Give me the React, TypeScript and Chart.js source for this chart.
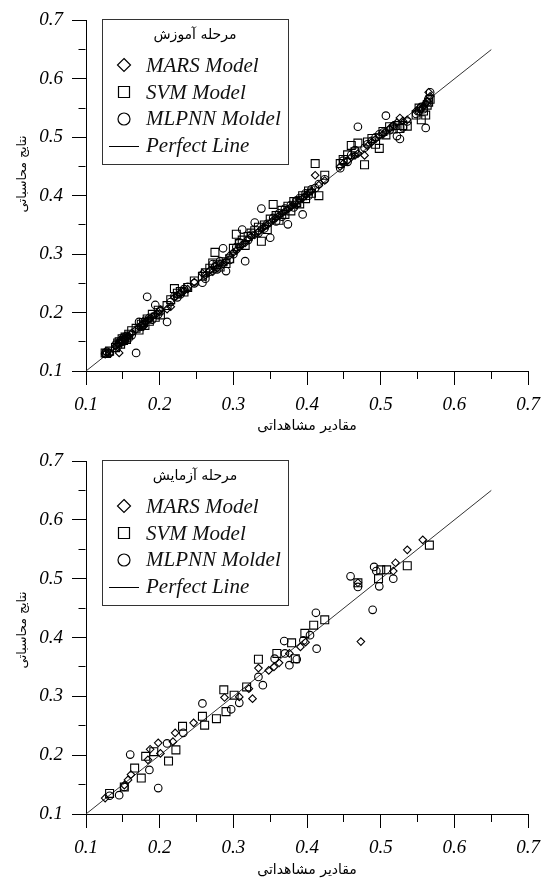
import React, { useEffect, useRef } from "react";
import { Chart, registerables } from "chart.js";

Chart.register(...registerables);

// ---------- data ----------
const tickLabels = ["0.1", "0.2", "0.3", "0.4", "0.5", "0.6", "0.7"];
const seriesLabels = ["MARS Model", "SVM Model", "MLPNN Moldel", "Perfect Line"];
const panelTitles = ["مرحله آموزش", "مرحله آزمایش"];
const xAxisTitle = "مقادیر مشاهداتی";
const yAxisTitle = "نتایج محاسباتی";
const perfectLine = [0.1, 0.65];

// training stage: observed values and model predictions
const trainObserved = [
  0.126, 0.128, 0.132,
  0.140, 0.143, 0.145, 0.147, 0.149, 0.151, 0.153, 0.155, 0.158, 0.162,
  0.168, 0.172, 0.175, 0.178, 0.180, 0.183, 0.186, 0.190, 0.194, 0.198,
  0.201, 0.210, 0.215, 0.220, 0.224, 0.228, 0.233, 0.238, 0.247,
  0.258, 0.262, 0.268, 0.272, 0.275, 0.278, 0.282, 0.286, 0.290, 0.295,
  0.300, 0.304, 0.308, 0.312, 0.316, 0.320, 0.324, 0.329, 0.334, 0.338,
  0.342, 0.346, 0.350, 0.354, 0.358, 0.362, 0.366, 0.370, 0.374, 0.378, 0.382, 0.386, 0.390, 0.394, 0.398, 0.402, 0.406, 0.411, 0.416, 0.424,
  0.445, 0.449, 0.455, 0.460, 0.465, 0.469,
  0.478, 0.482, 0.488, 0.493, 0.498, 0.503, 0.507, 0.512, 0.517, 0.522, 0.526, 0.530, 0.536,
  0.548, 0.552, 0.555, 0.558, 0.561, 0.563, 0.565, 0.567,
];
const trainMARS = [
  0.129, 0.131, 0.130,
  0.142, 0.146, 0.131, 0.150, 0.152, 0.154, 0.151, 0.158, 0.160, 0.165,
  0.171, 0.175, 0.178, 0.176, 0.183, 0.186, 0.189, 0.193, 0.196, 0.201,
  0.205, 0.206, 0.210, 0.226, 0.230, 0.233, 0.237, 0.240, 0.252,
  0.267, 0.264, 0.272, 0.270, 0.280, 0.276, 0.284, 0.283, 0.288, 0.298,
  0.303, 0.306, 0.312, 0.316, 0.319, 0.326, 0.330, 0.333, 0.338, 0.343,
  0.347, 0.350, 0.354, 0.358, 0.362, 0.366, 0.370, 0.373, 0.377, 0.381, 0.385, 0.384, 0.393, 0.396, 0.401, 0.405, 0.408, 0.435, 0.418, 0.426,
  0.450, 0.455, 0.460, 0.466, 0.469, 0.472,
  0.469, 0.485, 0.492, 0.497, 0.502, 0.505, 0.510, 0.515, 0.520, 0.525, 0.533, 0.528, 0.530,
  0.545, 0.550, 0.548, 0.553, 0.558, 0.562, 0.577, 0.570,
];
const trainSVM = [
  0.131, 0.130, 0.134,
  0.140, 0.148, 0.150, 0.146, 0.155, 0.152, 0.158, 0.154, 0.163, 0.169,
  0.173, 0.170, 0.180, 0.183, 0.178, 0.189, 0.185, 0.197, 0.192, 0.204,
  0.196, 0.212, 0.222, 0.241, 0.233, 0.236, 0.235, 0.243, 0.254,
  0.262, 0.268, 0.276, 0.285, 0.303, 0.282, 0.278, 0.287, 0.284, 0.292,
  0.310, 0.334, 0.318, 0.324, 0.315, 0.330, 0.336, 0.340, 0.346, 0.322,
  0.350, 0.342, 0.360, 0.385, 0.366, 0.358, 0.375, 0.368, 0.382, 0.374, 0.390, 0.388, 0.386, 0.400, 0.395, 0.408, 0.404, 0.455, 0.400, 0.435,
  0.455, 0.462, 0.470, 0.486, 0.475, 0.490,
  0.453, 0.492, 0.498, 0.488, 0.481, 0.510, 0.504, 0.518, 0.514, 0.520, 0.515, 0.520, 0.519,
  0.538, 0.550, 0.530, 0.545, 0.538, 0.555, 0.560, 0.565,
];
const trainMLPNN = [
  0.130, 0.133, 0.131,
  0.145, 0.142, 0.148, 0.152, 0.150, 0.157, 0.155, 0.160, 0.156, 0.161,
  0.131, 0.184, 0.176, 0.180, 0.186, 0.227, 0.191, 0.188, 0.213, 0.197,
  0.202, 0.184, 0.218, 0.228, 0.226, 0.231, 0.240, 0.244, 0.250,
  0.251, 0.258, 0.270, 0.283, 0.278, 0.274, 0.288, 0.310, 0.271, 0.290,
  0.300, 0.312, 0.320, 0.342, 0.288, 0.324, 0.333, 0.354, 0.336, 0.378,
  0.344, 0.352, 0.328, 0.362, 0.356, 0.370, 0.364, 0.378, 0.351, 0.384, 0.380, 0.392, 0.396, 0.368, 0.404, 0.400, 0.411, 0.413, 0.420, 0.428,
  0.447, 0.460, 0.458, 0.470, 0.478, 0.518,
  0.482, 0.488, 0.494, 0.500, 0.505, 0.508, 0.537, 0.512, 0.519, 0.502, 0.497, 0.517, 0.527,
  0.540, 0.545, 0.552, 0.548, 0.516, 0.560, 0.566, 0.577,
];

// testing stage
const testMARSObs = [0.126, 0.152, 0.157, 0.161, 0.184, 0.187, 0.198, 0.201, 0.218, 0.221, 0.246, 0.288, 0.308, 0.321, 0.326, 0.334, 0.348, 0.355, 0.362, 0.376, 0.391, 0.398, 0.469, 0.473, 0.517, 0.520, 0.536, 0.557];
const testMARSPred = [0.127, 0.149, 0.158, 0.167, 0.192, 0.210, 0.221, 0.203, 0.223, 0.238, 0.255, 0.298, 0.299, 0.313, 0.296, 0.348, 0.344, 0.350, 0.357, 0.373, 0.384, 0.392, 0.493, 0.393, 0.513, 0.527, 0.549, 0.566];
const testSVMObs = [0.132, 0.152, 0.166, 0.175, 0.181, 0.192, 0.212, 0.222, 0.231, 0.258, 0.261, 0.277, 0.287, 0.290, 0.301, 0.318, 0.334, 0.359, 0.379, 0.384, 0.397, 0.409, 0.424, 0.469, 0.497, 0.500, 0.508, 0.536, 0.566];
const testSVMPred = [0.135, 0.146, 0.178, 0.161, 0.198, 0.206, 0.190, 0.209, 0.249, 0.266, 0.251, 0.262, 0.311, 0.274, 0.302, 0.316, 0.363, 0.373, 0.391, 0.364, 0.407, 0.421, 0.430, 0.493, 0.500, 0.515, 0.515, 0.522, 0.557];
const testMLPNNObs = [0.132, 0.145, 0.152, 0.160, 0.186, 0.198, 0.210, 0.232, 0.258, 0.297, 0.308, 0.334, 0.340, 0.356, 0.369, 0.370, 0.376, 0.386, 0.395, 0.404, 0.412, 0.413, 0.459, 0.469, 0.489, 0.491, 0.494, 0.498, 0.517];
const testMLPNNPred = [0.131, 0.132, 0.146, 0.201, 0.175, 0.144, 0.220, 0.238, 0.288, 0.278, 0.289, 0.333, 0.319, 0.364, 0.394, 0.373, 0.353, 0.363, 0.395, 0.404, 0.442, 0.381, 0.504, 0.486, 0.447, 0.520, 0.513, 0.487, 0.500];

// ---------- helpers ----------
const SERIF = '"Liberation Serif", "Times New Roman", serif';
const ARABIC = '"DejaVu Sans", sans-serif';

const labelFor = (v: number) =>
  tickLabels.find((l) => Math.abs(parseFloat(l) - v) < 1e-6) ?? "";
const isMajor = (v: number) => labelFor(v) !== "";

const pair = (xs: number[], ys: number[]) => xs.map((x, i) => ({ x, y: ys[i] }));

const decorPlugin = {
  id: "decor",
  afterDraw(chart: any, _args: any, opts: any) {
    const { ctx, chartArea } = chart;
    ctx.save();
    // legend box
    const bx = Math.round(chartArea.left) + 16;
    const by = Math.round(chartArea.top) - 1;
    const bw = 186;
    const bh = 145;
    ctx.fillStyle = "#fff";
    ctx.fillRect(bx, by, bw, bh);
    ctx.strokeStyle = "#333";
    ctx.lineWidth = 1;
    ctx.strokeRect(bx + 0.5, by + 0.5, bw, bh);

    ctx.fillStyle = "#000";
    ctx.font = `14px ${ARABIC}`;
    ctx.textAlign = "center";
    ctx.textBaseline = "middle";
    ctx.fillText(opts.title, bx + 93, by + 16);

    const symY = [46, 73, 100, 127];
    const baseY = [53, 80, 106, 133];
    const sx = bx + 22;
    ctx.font = `italic 21px ${SERIF}`;
    ctx.textAlign = "left";
    ctx.textBaseline = "alphabetic";
    chart.data.datasets.forEach((ds: any, i: number) => {
      const cy = by + symY[i];
      ctx.strokeStyle = "#000";
      ctx.lineWidth = 1.2;
      ctx.beginPath();
      if (ds.pointStyle === "rectRot") {
        const r = 6.5;
        ctx.moveTo(sx, cy - r);
        ctx.lineTo(sx + r, cy);
        ctx.lineTo(sx, cy + r);
        ctx.lineTo(sx - r, cy);
        ctx.closePath();
      } else if (ds.pointStyle === "rect") {
        const h = 5.5;
        ctx.rect(sx - h, cy - h, 2 * h, 2 * h);
      } else if (ds.pointStyle === "circle") {
        ctx.arc(sx, cy, 6, 0, Math.PI * 2);
      } else {
        ctx.lineWidth = 1;
        ctx.moveTo(bx + 7, cy + 0.5);
        ctx.lineTo(bx + 37, cy + 0.5);
      }
      ctx.stroke();
      ctx.fillStyle = "#111";
      ctx.fillText(ds.label, bx + 44, by + baseY[i]);
    });

    // y-axis title
    ctx.translate(22.5, opts.yTitleY);
    ctx.rotate(-Math.PI / 2);
    ctx.font = `12.5px ${ARABIC}`;
    ctx.textAlign = "center";
    ctx.textBaseline = "middle";
    ctx.fillStyle = "#000";
    ctx.fillText(yAxisTitle, 0, 0);
    ctx.restore();
  },
};

type PanelProps = {
  mars: { x: number; y: number }[];
  svm: { x: number; y: number }[];
  mlp: { x: number; y: number }[];
  title: string;
  height: number;
  padTop: number;
  axisH: number;
  yTitleY: number;
  titleBottom: number;
};

function Panel(p: PanelProps) {
  const ref = useRef<HTMLCanvasElement | null>(null);
  useEffect(() => {
    if (!ref.current) return;
    const tickFont = { family: SERIF, size: 19, style: "italic" as const };
    const axisCommon = (horizontal: boolean) => ({
      type: "linear" as const,
      min: 0.1,
      max: 0.7,
      border: { display: true, color: "#000", width: 1 },
      grid: {
        drawOnChartArea: false,
        drawTicks: true,
        tickLength: 14,
        tickColor: "#000",
        tickWidth: 1,
        tickBorderDash: (c: any) =>
          c.tick && isMajor(c.tick.value) ? [] : horizontal ? [7, 100] : [0, 6.5, 7, 100],
      },
      ticks: {
        stepSize: 0.05,
        autoSkip: false,
        maxRotation: 0,
        minRotation: 0,
        padding: 9,
        color: "#000",
        font: tickFont,
        callback: (v: any) => labelFor(Number(v)),
      },
    });
    const chart = new Chart(ref.current, {
      type: "scatter",
      data: {
        datasets: [
          {
            label: seriesLabels[0],
            data: p.mars,
            pointStyle: "rectRot",
            pointRadius: 3.8,
            pointHoverRadius: 3.8,
            borderColor: "#000",
            backgroundColor: "rgba(0,0,0,0)",
            borderWidth: 1.1,
          },
          {
            label: seriesLabels[1],
            data: p.svm,
            pointStyle: "rect",
            pointRadius: 5.6,
            pointHoverRadius: 5.6,
            borderColor: "#000",
            backgroundColor: "rgba(0,0,0,0)",
            borderWidth: 1.1,
          },
          {
            label: seriesLabels[2],
            data: p.mlp,
            pointStyle: "circle",
            pointRadius: 3.8,
            pointHoverRadius: 3.8,
            borderColor: "#000",
            backgroundColor: "rgba(0,0,0,0)",
            borderWidth: 1.1,
          },
          {
            type: "line",
            label: seriesLabels[3],
            data: perfectLine.map((v) => ({ x: v, y: v })),
            borderColor: "#333",
            borderWidth: 1,
            pointRadius: 0,
            showLine: true,
            fill: false,
          } as any,
        ],
      },
      options: {
        responsive: false,
        animation: false,
        devicePixelRatio: 1,
        layout: { padding: { top: p.padTop, right: 15, left: 0, bottom: 0 } },
        plugins: {
          legend: { display: false },
          tooltip: { enabled: false },
          decor: { title: p.title, yTitleY: p.yTitleY },
        } as any,
        scales: {
          x: {
            ...axisCommon(true),
            position: "bottom",
            afterFit: (s: any) => {
              s.height = p.axisH;
            },
            title: {
              display: true,
              text: xAxisTitle,
              color: "#000",
              font: { family: ARABIC, size: 14 },
              padding: { top: 0, bottom: p.titleBottom },
            },
          },
          y: {
            ...axisCommon(false),
            position: "left",
            afterFit: (s: any) => {
              s.width = 86;
            },
          },
        } as any,
      },
      plugins: [decorPlugin],
    });
    return () => chart.destroy();
  }, []);
  return <canvas ref={ref} width={549} height={p.height} style={{ display: "block" }} />;
}

export default function App() {
  return (
    <div style={{ position: "absolute", left: 0, top: 0, width: 549, height: 881, background: "#fff" }}>
      <Panel
        mars={pair(trainObserved, trainMARS)}
        svm={pair(trainObserved, trainSVM)}
        mlp={pair(trainObserved, trainMLPNN)}
        title={panelTitles[0]}
        height={440}
        padTop={18}
        axisH={69}
        yTitleY={174}
        titleBottom={5}
      />
      <Panel
        mars={pair(testMARSObs, testMARSPred)}
        svm={pair(testSVMObs, testSVMPred)}
        mlp={pair(testMLPNNObs, testMLPNNPred)}
        title={panelTitles[1]}
        height={441}
        padTop={21}
        axisH={67}
        yTitleY={190}
        titleBottom={2}
      />
    </div>
  );
}
